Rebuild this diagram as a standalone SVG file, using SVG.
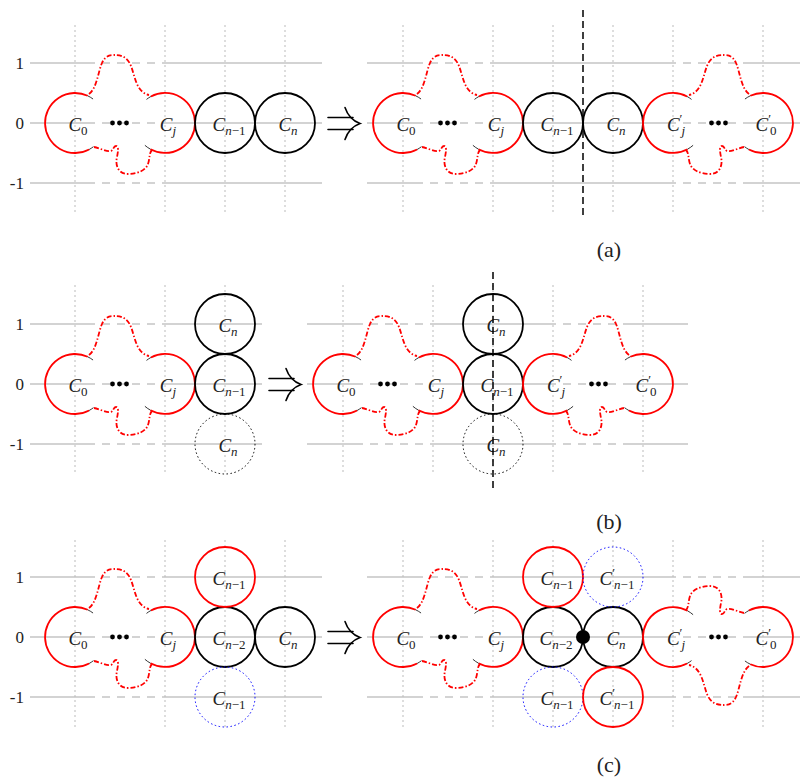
<svg xmlns="http://www.w3.org/2000/svg" xmlns:xlink="http://www.w3.org/1999/xlink" width="801" height="783" viewBox="0 0 801 783">
<style>
.grid{stroke:#c4c4c4;stroke-width:1.3;fill:none}
.vgrid{stroke:#bbbbbb;stroke-width:1;stroke-dasharray:2 3;fill:none}
.gap{stroke:#fff;stroke-width:3;stroke-dasharray:7 8;fill:none}
.bc{fill:none;stroke:#000;stroke-width:1.8}
.rc{fill:none;stroke:#f00;stroke-width:1.8}
.rd{fill:none;stroke:#f00;stroke-width:1.8;stroke-dasharray:5 2 1.5 2}
.tick{fill:none;stroke:#000;stroke-width:0.8}
.kd{fill:none;stroke:#000;stroke-width:1;stroke-dasharray:1.5 2.5}
.bd{fill:none;stroke:#00f;stroke-width:1;stroke-dasharray:1.5 2.5}
.vd{stroke:#000;stroke-width:1.5;stroke-dasharray:7 4}
.arrow{fill:none;stroke:#000;stroke-width:1.6;stroke-linecap:round}
text{font-family:'Liberation Serif','Times New Roman','DejaVu Serif',serif;fill:#222}
.lbl{font-style:italic;font-size:19px;text-anchor:middle}
.sub{font-size:13px}
.up{font-style:normal}
.ax{font-size:17px;text-anchor:end}
.cap{font-size:22px;text-anchor:middle}
</style>
<defs>
<g id="shape">
<line class="gap" x1="20" y1="-60" x2="88" y2="-60"/>
<line class="gap" x1="20" y1="0" x2="88" y2="0"/>
<line class="gap" x1="20" y1="60" x2="88" y2="60"/>
<path class="rc" d="M12.7 -27.2 A30 30 0 1 0 14.1 26.5"/>
<path class="rc" d="M75.9 -26.5 A30 30 0 1 1 75.5 26.2"/>
<path class="tick" d="M12.7 -27.2 A30 30 0 0 1 18.05 -23.96"/>
<path class="tick" d="M14.1 26.5 A30 30 0 0 0 18.47 23.64"/>
<path class="tick" d="M75.9 -26.5 A30 30 0 0 0 71.5 -23.6"/>
<path class="tick" d="M75.5 26.2 A30 30 0 0 1 69.9 22.3"/>
<path class="rd" d="M14 -29 C22 -35 23 -51 27 -60 C31 -69 37 -68 40 -68 C45 -68 52 -67 56 -57 C60 -47 61 -31 74 -28"/>
<path class="rd" d="M19 24 C25 25 31 29 36 28 C39 27 38 23 41 23 C44 23 43 29 42 34 C40 42 43 51 53 51 C63 51 71 47 73 41 C75 35 74 30 77 27"/>
<circle cx="37.5" cy="0" r="2.4" fill="#000"/>
<circle cx="44.5" cy="0" r="2.4" fill="#000"/>
<circle cx="51.5" cy="0" r="2.4" fill="#000"/>
</g>
<g id="dblarrow">
<path class="arrow" d="M-15 -6 H10 M-15 6 H10"/>
<path class="arrow" d="M2 -16 Q6 -4 17 0 Q6 4 2 16"/>
</g>
</defs>

<g id="grid">
<line class="grid" x1="30" y1="63" x2="322" y2="63"/>
<line class="grid" x1="30" y1="123" x2="322" y2="123"/>
<line class="grid" x1="30" y1="183" x2="322" y2="183"/>
<line class="grid" x1="367" y1="63" x2="800" y2="63"/>
<line class="grid" x1="367" y1="123" x2="800" y2="123"/>
<line class="grid" x1="367" y1="183" x2="800" y2="183"/>
<line class="grid" x1="30" y1="324" x2="262" y2="324"/>
<line class="grid" x1="30" y1="384" x2="262" y2="384"/>
<line class="grid" x1="30" y1="444" x2="262" y2="444"/>
<line class="grid" x1="307" y1="324" x2="688" y2="324"/>
<line class="grid" x1="307" y1="384" x2="688" y2="384"/>
<line class="grid" x1="307" y1="444" x2="688" y2="444"/>
<line class="grid" x1="30" y1="577" x2="322" y2="577"/>
<line class="grid" x1="30" y1="637" x2="322" y2="637"/>
<line class="grid" x1="30" y1="697" x2="322" y2="697"/>
<line class="grid" x1="367" y1="577" x2="800" y2="577"/>
<line class="grid" x1="367" y1="637" x2="800" y2="637"/>
<line class="grid" x1="367" y1="697" x2="800" y2="697"/>
<g class="vgrid">
<line x1="75" y1="25" x2="75" y2="215"/><line x1="165" y1="25" x2="165" y2="215"/><line x1="225" y1="25" x2="225" y2="215"/><line x1="285" y1="25" x2="285" y2="215"/>
<line x1="403" y1="25" x2="403" y2="215"/><line x1="493" y1="25" x2="493" y2="215"/><line x1="553" y1="25" x2="553" y2="215"/><line x1="613" y1="25" x2="613" y2="215"/><line x1="673" y1="25" x2="673" y2="215"/><line x1="763" y1="25" x2="763" y2="215"/>
<line x1="75" y1="285" x2="75" y2="475"/><line x1="165" y1="285" x2="165" y2="475"/><line x1="225" y1="285" x2="225" y2="475"/>
<line x1="343" y1="285" x2="343" y2="475"/><line x1="433" y1="285" x2="433" y2="475"/><line x1="493" y1="285" x2="493" y2="475"/><line x1="553" y1="285" x2="553" y2="475"/><line x1="643" y1="285" x2="643" y2="475"/>
<line x1="75" y1="540" x2="75" y2="728"/><line x1="165" y1="540" x2="165" y2="728"/><line x1="225" y1="540" x2="225" y2="728"/><line x1="285" y1="540" x2="285" y2="728"/>
<line x1="403" y1="540" x2="403" y2="728"/><line x1="493" y1="540" x2="493" y2="728"/><line x1="553" y1="540" x2="553" y2="728"/><line x1="613" y1="540" x2="613" y2="728"/><line x1="673" y1="540" x2="673" y2="728"/><line x1="763" y1="540" x2="763" y2="728"/>
</g>
<text class="ax" x="24" y="69">1</text><text class="ax" x="24" y="129">0</text><text class="ax" x="24" y="189">-1</text>
<text class="ax" x="24" y="330">1</text><text class="ax" x="24" y="390">0</text><text class="ax" x="24" y="450">-1</text>
<text class="ax" x="24" y="583">1</text><text class="ax" x="24" y="643">0</text><text class="ax" x="24" y="703">-1</text>
</g>

<!-- Panel (a) -->
<g id="a-left-chain"><use xlink:href="#shape" href="#shape" transform="translate(75,123)"/></g>
<g id="a-left-cn1"><circle class="bc" cx="225" cy="123" r="30"/></g>
<g id="a-left-cn"><circle class="bc" cx="285" cy="123" r="30"/></g>
<g id="a-right-chain"><use xlink:href="#shape" href="#shape" transform="translate(403,123)"/></g>
<g id="a-right-cn1"><circle class="bc" cx="553" cy="123" r="30"/></g>
<g id="a-right-cn"><circle class="bc" cx="613" cy="123" r="30"/></g>
<g id="a-right-mirror"><use xlink:href="#shape" href="#shape" transform="translate(763,123) scale(-1,1)"/></g>

<!-- Panel (b) -->
<g id="b-left-chain"><use xlink:href="#shape" href="#shape" transform="translate(75,384)"/></g>
<g id="b-left-cn1"><circle class="bc" cx="225" cy="384" r="30"/></g>
<g id="b-left-cn"><circle class="bc" cx="225" cy="324" r="30"/></g>
<g id="b-left-cn-ghost"><circle class="kd" cx="225" cy="444" r="30"/></g>
<g id="b-right-chain"><use xlink:href="#shape" href="#shape" transform="translate(343,384)"/></g>
<g id="b-right-cn1"><circle class="bc" cx="493" cy="384" r="30"/></g>
<g id="b-right-cn"><circle class="bc" cx="493" cy="324" r="30"/></g>
<g id="b-right-cn-ghost"><circle class="kd" cx="493" cy="444" r="30"/></g>
<g id="b-right-mirror"><use xlink:href="#shape" href="#shape" transform="translate(643,384) scale(-1,1)"/></g>

<!-- Panel (c) -->
<g id="c-left-chain"><use xlink:href="#shape" href="#shape" transform="translate(75,637)"/></g>
<g id="c-left-cn2"><circle class="bc" cx="225" cy="637" r="30"/></g>
<g id="c-left-cn"><circle class="bc" cx="285" cy="637" r="30"/></g>
<g id="c-left-cn1"><circle class="rc" cx="225" cy="577" r="30"/></g>
<g id="c-left-cn1-ghost"><circle class="bd" cx="225" cy="697" r="30"/></g>
<g id="c-right-chain"><use xlink:href="#shape" href="#shape" transform="translate(403,637)"/></g>
<g id="c-right-cn2"><circle class="bc" cx="553" cy="637" r="30"/></g>
<g id="c-right-cn"><circle class="bc" cx="613" cy="637" r="30"/></g>
<g id="c-right-cn1"><circle class="rc" cx="553" cy="577" r="30"/></g>
<g id="c-right-cn1p-ghost"><circle class="bd" cx="613" cy="577" r="30"/></g>
<g id="c-right-cn1-ghost"><circle class="bd" cx="553" cy="697" r="30"/></g>
<g id="c-right-cn1p"><circle class="rc" cx="613" cy="697" r="30"/></g>
<g id="c-right-rotated"><use xlink:href="#shape" href="#shape" transform="translate(763,637) scale(-1,-1)"/></g>
<g id="c-pivot"><circle cx="583" cy="637" r="7" fill="#000"/></g>

<!-- labels -->
<g id="labels">
<text class="lbl" x="78" y="131">C<tspan class="sub up" dy="4">0</tspan></text>
<text class="lbl" x="168" y="131">C<tspan class="sub" dy="4">j</tspan></text>
<text class="lbl" x="229" y="131">C<tspan class="sub" dy="4">n<tspan class="up">−1</tspan></tspan></text>
<text class="lbl" x="288" y="131">C<tspan class="sub" dy="4">n</tspan></text>
<text class="lbl" x="406" y="131">C<tspan class="sub up" dy="4">0</tspan></text>
<text class="lbl" x="496" y="131">C<tspan class="sub" dy="4">j</tspan></text>
<text class="lbl" x="557" y="131">C<tspan class="sub" dy="4">n<tspan class="up">−1</tspan></tspan></text>
<text class="lbl" x="616" y="131">C<tspan class="sub" dy="4">n</tspan></text>
<text class="lbl" x="676" y="131">C<tspan class="sub up" dy="-8">′</tspan><tspan class="sub" dx="-1" dy="12">j</tspan></text>
<text class="lbl" x="766" y="131">C<tspan class="sub up" dy="-8">′</tspan><tspan class="sub up" dx="-1" dy="12">0</tspan></text>

<text class="lbl" x="78" y="392">C<tspan class="sub up" dy="4">0</tspan></text>
<text class="lbl" x="168" y="392">C<tspan class="sub" dy="4">j</tspan></text>
<text class="lbl" x="229" y="392">C<tspan class="sub" dy="4">n<tspan class="up">−1</tspan></tspan></text>
<text class="lbl" x="228" y="332">C<tspan class="sub" dy="4">n</tspan></text>
<text class="lbl" x="228" y="452">C<tspan class="sub" dy="4">n</tspan></text>
<text class="lbl" x="346" y="392">C<tspan class="sub up" dy="4">0</tspan></text>
<text class="lbl" x="436" y="392">C<tspan class="sub" dy="4">j</tspan></text>
<text class="lbl" x="497" y="392">C<tspan class="sub" dy="4">n<tspan class="up">−1</tspan></tspan></text>
<text class="lbl" x="496" y="332">C<tspan class="sub" dy="4">n</tspan></text>
<text class="lbl" x="496" y="452">C<tspan class="sub" dy="4">n</tspan></text>
<text class="lbl" x="556" y="392">C<tspan class="sub up" dy="-8">′</tspan><tspan class="sub" dx="-1" dy="12">j</tspan></text>
<text class="lbl" x="646" y="392">C<tspan class="sub up" dy="-8">′</tspan><tspan class="sub up" dx="-1" dy="12">0</tspan></text>

<text class="lbl" x="78" y="645">C<tspan class="sub up" dy="4">0</tspan></text>
<text class="lbl" x="168" y="645">C<tspan class="sub" dy="4">j</tspan></text>
<text class="lbl" x="229" y="645">C<tspan class="sub" dy="4">n<tspan class="up">−2</tspan></tspan></text>
<text class="lbl" x="288" y="645">C<tspan class="sub" dy="4">n</tspan></text>
<text class="lbl" x="229" y="585">C<tspan class="sub" dy="4">n<tspan class="up">−1</tspan></tspan></text>
<text class="lbl" x="229" y="705">C<tspan class="sub" dy="4">n<tspan class="up">−1</tspan></tspan></text>
<text class="lbl" x="406" y="645">C<tspan class="sub up" dy="4">0</tspan></text>
<text class="lbl" x="496" y="645">C<tspan class="sub" dy="4">j</tspan></text>
<text class="lbl" x="556" y="645">C<tspan class="sub" dy="4">n<tspan class="up">−2</tspan></tspan></text>
<text class="lbl" x="616" y="645">C<tspan class="sub" dy="4">n</tspan></text>
<text class="lbl" x="557" y="585">C<tspan class="sub" dy="4">n<tspan class="up">−1</tspan></tspan></text>
<text class="lbl" x="617" y="585">C<tspan class="sub up" dy="-8">′</tspan><tspan class="sub" dx="-1" dy="12">n<tspan class="up">−1</tspan></tspan></text>
<text class="lbl" x="557" y="705">C<tspan class="sub" dy="4">n<tspan class="up">−1</tspan></tspan></text>
<text class="lbl" x="617" y="705">C<tspan class="sub up" dy="-8">′</tspan><tspan class="sub" dx="-1" dy="12">n<tspan class="up">−1</tspan></tspan></text>
<text class="lbl" x="676" y="645">C<tspan class="sub up" dy="-8">′</tspan><tspan class="sub" dx="-1" dy="12">j</tspan></text>
<text class="lbl" x="766" y="645">C<tspan class="sub up" dy="-8">′</tspan><tspan class="sub up" dx="-1" dy="12">0</tspan></text>
</g>

<g id="connectors">
<line class="vd" x1="583" y1="10" x2="583" y2="215"/>
<line class="vd" x1="493" y1="272" x2="493" y2="490"/>
<use xlink:href="#dblarrow" href="#dblarrow" transform="translate(343,123.5)"/>
<use xlink:href="#dblarrow" href="#dblarrow" transform="translate(284,384.5)"/>
<use xlink:href="#dblarrow" href="#dblarrow" transform="translate(343,637.5)"/>
</g>

<g id="captions">
<text class="cap" x="609" y="257">(a)</text>
<text class="cap" x="609" y="529">(b)</text>
<text class="cap" x="609" y="772">(c)</text>
</g>
</svg>
